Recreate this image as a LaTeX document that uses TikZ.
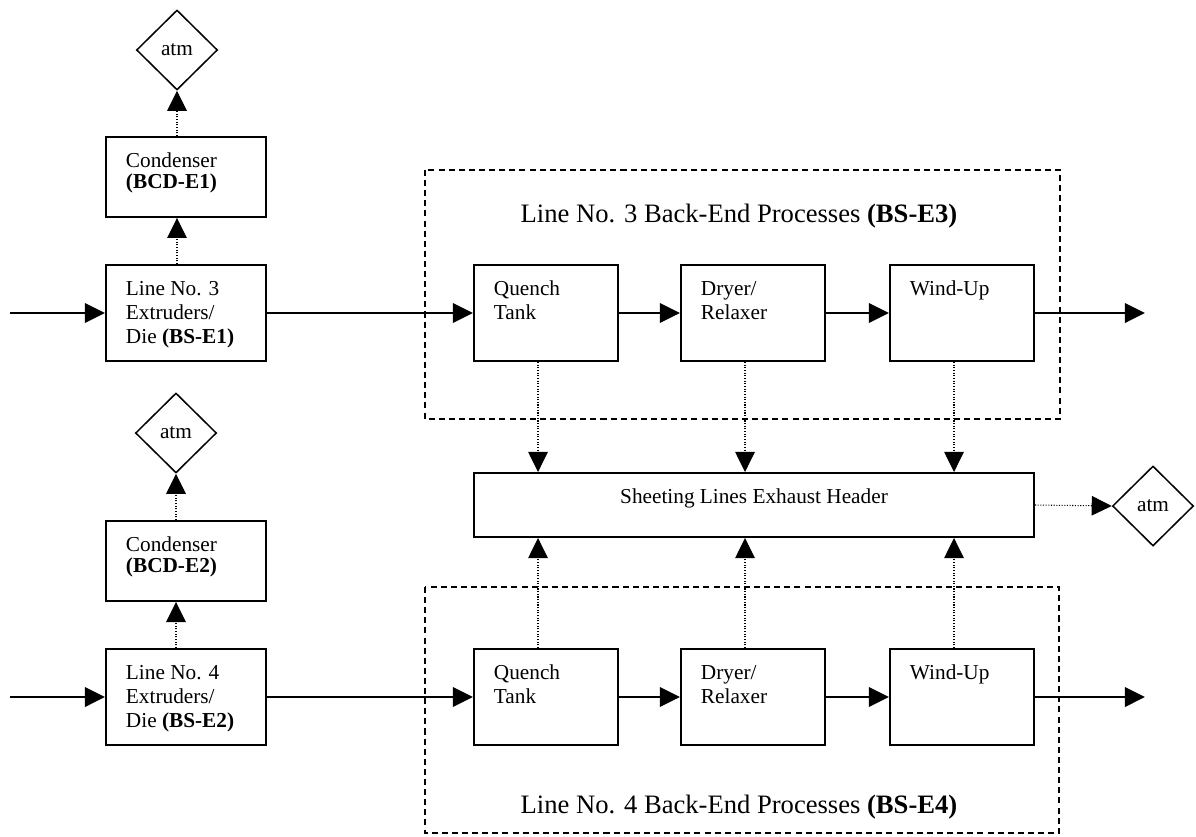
\documentclass[tikz,border=0pt]{standalone}
\usepackage{fontspec}
\setmainfont{Liberation Serif}
\usetikzlibrary{arrows.meta, shapes.geometric, positioning}

\newcommand{\boxtext}[3]{\parbox[c][#2][t]{#1}{\raggedright\rule{0pt}{17pt}#3}}

\begin{document}
\begin{tikzpicture}[x=0.564pt, y=-0.564pt,
	>={Triangle[length=11.3pt, width=11pt]},
	unit/.style={draw, line width=1.1pt, inner xsep=11.28pt, inner ysep=0pt, font=\fontsize{12}{13.7}\selectfont},
	vent/.style={draw, diamond, line width=0.85pt, minimum width=45.7pt, minimum height=45.1pt, inner sep=0pt, font=\fontsize{12}{14}\selectfont},
	flow/.style={->, line width=1.1pt},
	fume/.style={->, line width=0.6pt, dash pattern=on 0.6pt off 0.9pt},
	frame/.style={line width=0.85pt, dash pattern=on 3.4pt off 2.3pt},
	title/.style={anchor=base, font=\fontsize{15}{18}\selectfont}]
		\useasboundingbox (0,0) rectangle (1196,836);
		
		% back-end frames
		\draw[frame] (425,170) rectangle (1060,419);
		\draw[frame] (425,587) rectangle (1059,833);
		\node[title] (t3) at (739,222) {Line No. 3 Back-End Processes \textbf{(BS-E3)}};
		\node[title] (t4) at (739,813) {Line No. 4 Back-End Processes \textbf{(BS-E4)}};
		
		% line 3
		\node[vent] (atm1) at (177,50) {atm};
		\node[unit, font=\fontsize{12}{12.2}\selectfont] (cond1) at (186,177) {\boxtext{67.7pt}{45.1pt}{Condenser\\\textbf{(BCD-E1)}}};
		\node[unit] (ext3) at (186,313) {\boxtext{67.7pt}{54.1pt}{Line No. 3\\Extruders/\\Die \textbf{(BS-E1)}}};
		\node[unit] (qt3) at (546,313) {\boxtext{58.7pt}{54.1pt}{Quench\\Tank}};
		\node[unit] (dr3) at (753,313) {\boxtext{58.7pt}{54.1pt}{Dryer/\\Relaxer}};
		\node[unit] (wu3) at (962,313) {\boxtext{58.7pt}{54.1pt}{Wind-Up}};
		\coordinate (in3) at (10,313);
		\coordinate (out3) at (1145,313);
		
		% header
		\node[unit] (hdr) at (754,505) {\boxtext{293.3pt}{36.1pt}{\centering Sheeting Lines Exhaust Header}};
		\node[vent] (atm3) at (1153,506) {atm};
		
		% line 4
		\node[vent] (atm2) at (176,433) {atm};
		\node[unit, font=\fontsize{12}{12.2}\selectfont] (cond2) at (186,561) {\boxtext{67.7pt}{45.1pt}{Condenser\\\textbf{(BCD-E2)}}};
		\node[unit] (ext4) at (186,697) {\boxtext{67.7pt}{54.1pt}{Line No. 4\\Extruders/\\Die \textbf{(BS-E2)}}};
		\node[unit] (qt4) at (546,697) {\boxtext{58.7pt}{54.1pt}{Quench\\Tank}};
		\node[unit] (dr4) at (753,697) {\boxtext{58.7pt}{54.1pt}{Dryer/\\Relaxer}};
		\node[unit] (wu4) at (962,697) {\boxtext{58.7pt}{54.1pt}{Wind-Up}};
		\coordinate (in4) at (10,697);
		\coordinate (out4) at (1145,697);
		
		\draw[flow] (in3) -- (ext3);
		\draw[flow] (ext3) -- (qt3);
		\draw[flow] (qt3) -- (dr3);
		\draw[flow] (dr3) -- (wu3);
		\draw[flow] (wu3) -- (out3);
		\draw[flow] (in4) -- (ext4);
		\draw[flow] (ext4) -- (qt4);
		\draw[flow] (qt4) -- (dr4);
		\draw[flow] (dr4) -- (wu4);
		\draw[flow] (wu4) -- (out4);
		
		% exhaust
		\draw[fume] (ext3.north -| atm1) -- (cond1.south -| atm1);
		\draw[fume] (cond1.north -| atm1) -- (atm1.south);
		\draw[fume] (ext4.north -| atm2) -- (cond2.south -| atm2);
		\draw[fume] (cond2.north -| atm2) -- (atm2.south);
		\draw[fume] ([xshift=-4.5pt]qt3.south) -- ([xshift=-4.5pt]qt3.south |- hdr.north);
		\draw[fume] ([xshift=-4.5pt]dr3.south) -- ([xshift=-4.5pt]dr3.south |- hdr.north);
		\draw[fume] ([xshift=-4.5pt]wu3.south) -- ([xshift=-4.5pt]wu3.south |- hdr.north);
		\draw[fume] ([xshift=-4.5pt]qt4.north) -- ([xshift=-4.5pt]qt4.north |- hdr.south);
		\draw[fume] ([xshift=-4.5pt]dr4.north) -- ([xshift=-4.5pt]dr4.north |- hdr.south);
		\draw[fume] ([xshift=-4.5pt]wu4.north) -- ([xshift=-4.5pt]wu4.north |- hdr.south);
		\draw[fume] (hdr.east) -- (atm3.west);
	\end{tikzpicture}
\end{document}
